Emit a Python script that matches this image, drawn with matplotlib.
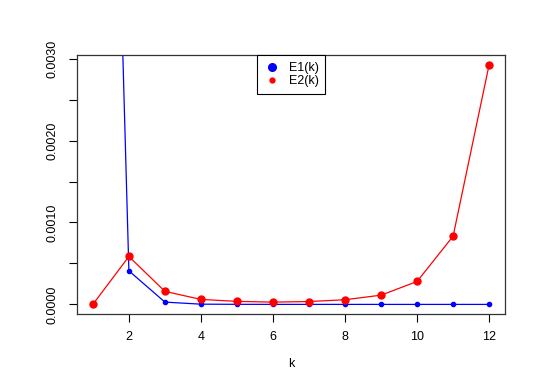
import matplotlib
matplotlib.use("Agg")
import matplotlib.pyplot as plt
from matplotlib.lines import Line2D

plt.rcParams["font.family"] = ["Liberation Sans", "DejaVu Sans"]

k = [1, 2, 3, 4, 5, 6, 7, 8, 9, 10, 11, 12]
e1 = [0.0161, 0.00041, 0.000028, 0.000003, 0.000001, 0.0000005,
      0.0000003, 0.0000002, 0.0000001, 0.0000001, 0.0000001, 0.0000001]
e2 = [0.0, 0.000585, 0.000159, 0.000061, 0.000037, 0.000028,
      0.000035, 0.000057, 0.000113, 0.00028, 0.000833, 0.002927]
x_ticks = [2, 4, 6, 8, 10, 12]
y_ticks = [0.0, 0.0005, 0.0010, 0.0015, 0.0020, 0.0025, 0.0030]
y_labels = ["0.0000", "", "0.0010", "", "0.0020", "", "0.0030"]


def main():
    fig = plt.figure(figsize=(5.45, 3.82), dpi=100)
    ax = fig.add_axes([0.1413, 0.178, 0.7853, 0.678])

    ax.plot(k, e1, color="#0000FF", lw=0.9, marker="o", ms=3.0, clip_on=True)
    ax.plot(k, e2, color="#FF0000", lw=0.9, marker="o", ms=5.0, clip_on=True)

    # R style axis extension of 4%
    xr = max(k) - min(k)
    ax.set_xlim(min(k) - 0.04 * xr, max(k) + 0.04 * xr)
    yr = max(e2) - min(e2)
    ax.set_ylim(min(e2) - 0.04 * yr, max(e2) + 0.04 * yr)

    ax.set_xticks(x_ticks)
    ax.set_xticklabels([str(t) for t in x_ticks])
    ax.set_yticks(y_ticks)
    ax.set_yticklabels(y_labels, rotation=90, va="center")

    ax.tick_params(direction="out", length=6, width=0.8, labelsize=9, colors="black")
    ax.tick_params(axis="y", pad=7)
    ax.tick_params(axis="x", pad=6)
    for s in ax.spines.values():
        s.set_linewidth(0.9)
        s.set_color("#333333")

    ax.set_xlabel("k", fontsize=9, labelpad=11)

    handles = [
        Line2D([], [], color="#0000FF", marker="o", ls="none", ms=5.5),
        Line2D([], [], color="#FF0000", marker="o", ls="none", ms=3.5),
    ]
    leg = ax.legend(handles, ["E1(k)", "E2(k)"], loc="upper center",
                    bbox_to_anchor=(0.5, 1.0), borderaxespad=0, fancybox=False,
                    edgecolor="black", framealpha=1, fontsize=9,
                    handlelength=1.3, handletextpad=0.7, labelspacing=0.1,
                    borderpad=0.55)
    leg.get_frame().set_linewidth(0.8)

    fig.savefig("out.png", dpi=100)


if __name__ == "__main__":
    main()
